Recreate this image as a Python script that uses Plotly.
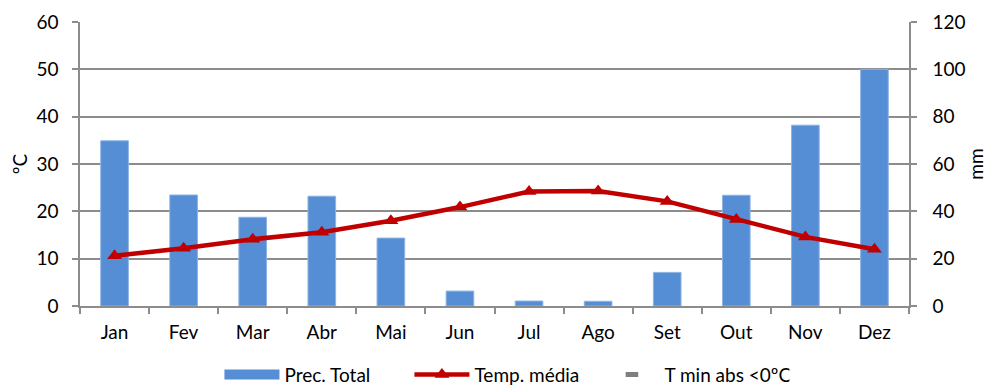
import plotly.graph_objects as go

# Monthly climate normals
months = ["Jan", "Fev", "Mar", "Abr", "Mai", "Jun", "Jul", "Ago", "Set", "Out", "Nov", "Dez"]
prec_total = [69.8, 46.9, 37.5, 46.4, 28.7, 6.3, 2.1, 2.0, 14.2, 46.8, 76.4, 100.0]   # mm
temp_media = [10.6, 12.2, 14.1, 15.6, 18.0, 20.9, 24.2, 24.3, 22.1, 18.3, 14.6, 12.0]  # ºC
tmin_abs_neg = [None] * 12  # months with absolute minimum below 0ºC (none)

FONT = "Lato, 'Open Sans', sans-serif"
GRID = "#8c8c8c"
BLUE = "#558ed5"
FS = 19

fig = go.Figure()

# Precipitation bars on the primary axis (drawn on the right side, 0-120 mm)
fig.add_trace(go.Bar(
    x=months, y=prec_total, name="Prec. Total",
    marker=dict(color=BLUE, line=dict(color="#8db3e2", width=1)),
    yaxis="y", showlegend=False, legendgroup="prec",
))
# Wide swatch for the precipitation legend entry
fig.add_trace(go.Scatter(
    x=months, y=[None] * 12, name="Prec. Total", mode="lines",
    line=dict(color=BLUE, width=11), yaxis="y", legendgroup="prec",
))

# Mean temperature line on the overlaying axis (left side, 0-60 ºC)
fig.add_trace(go.Scatter(
    x=months, y=temp_media, name="Temp. média",
    mode="lines+markers",
    line=dict(color="#c00000", width=4.5),
    marker=dict(symbol="triangle-up", size=13, color="#c00000"),
    yaxis="y2",
))

# Absolute minimum below 0ºC (legend entry only, no values)
fig.add_trace(go.Scatter(
    x=months, y=tmin_abs_neg, name="T min abs <0ºC",
    mode="markers",
    marker=dict(symbol="line-ew", size=9, color="#7f7f7f",
                line=dict(color="#7f7f7f", width=5)),
    yaxis="y2",
))

fig.update_layout(
    width=987, height=392,
    margin=dict(l=80, r=78, t=22, b=86, autoexpand=False),
    paper_bgcolor="white", plot_bgcolor="white",
    font=dict(family=FONT, size=FS, color="#000000"),
    bargap=0.6,
    showlegend=True,
    legend=dict(
        orientation="h", x=0.512, xanchor="center", y=-0.175, yanchor="top",
        font=dict(size=FS), itemwidth=55, traceorder="normal",
        entrywidth=120, entrywidthmode="pixels",
        bgcolor="rgba(0,0,0,0)",
    ),
    xaxis=dict(
        type="category", range=[-0.5, 11.5], automargin=False,
        showline=True, linecolor=GRID, linewidth=1.5,
        ticks="outside", tickson="boundaries", ticklen=6, tickcolor=GRID, tickwidth=1.5,
        ticklabelstandoff=8,
        showgrid=False,
        tickfont=dict(size=FS),
    ),
    yaxis=dict(
        side="right", range=[0, 120], dtick=20, automargin=False,
        title=dict(text="mm", font=dict(size=FS), standoff=15),
        showline=True, linecolor=GRID, linewidth=1.5,
        ticks="outside", ticklen=6, tickcolor=GRID, tickwidth=1.5,
        ticklabelstandoff=12,
        showgrid=True, gridcolor=GRID, gridwidth=1.5,
        zeroline=False,
        tickfont=dict(size=FS),
    ),
    yaxis2=dict(
        overlaying="y", side="left", range=[0, 60], dtick=10, automargin=False,
        title=dict(text="ºC", font=dict(size=FS), standoff=4),
        showline=True, linecolor=GRID, linewidth=1.5,
        ticks="outside", ticklen=6, tickcolor=GRID, tickwidth=1.5,
        ticklabelstandoff=10,
        showgrid=False, zeroline=False,
        tickfont=dict(size=FS),
    ),
)

fig.write_html("out.html")
